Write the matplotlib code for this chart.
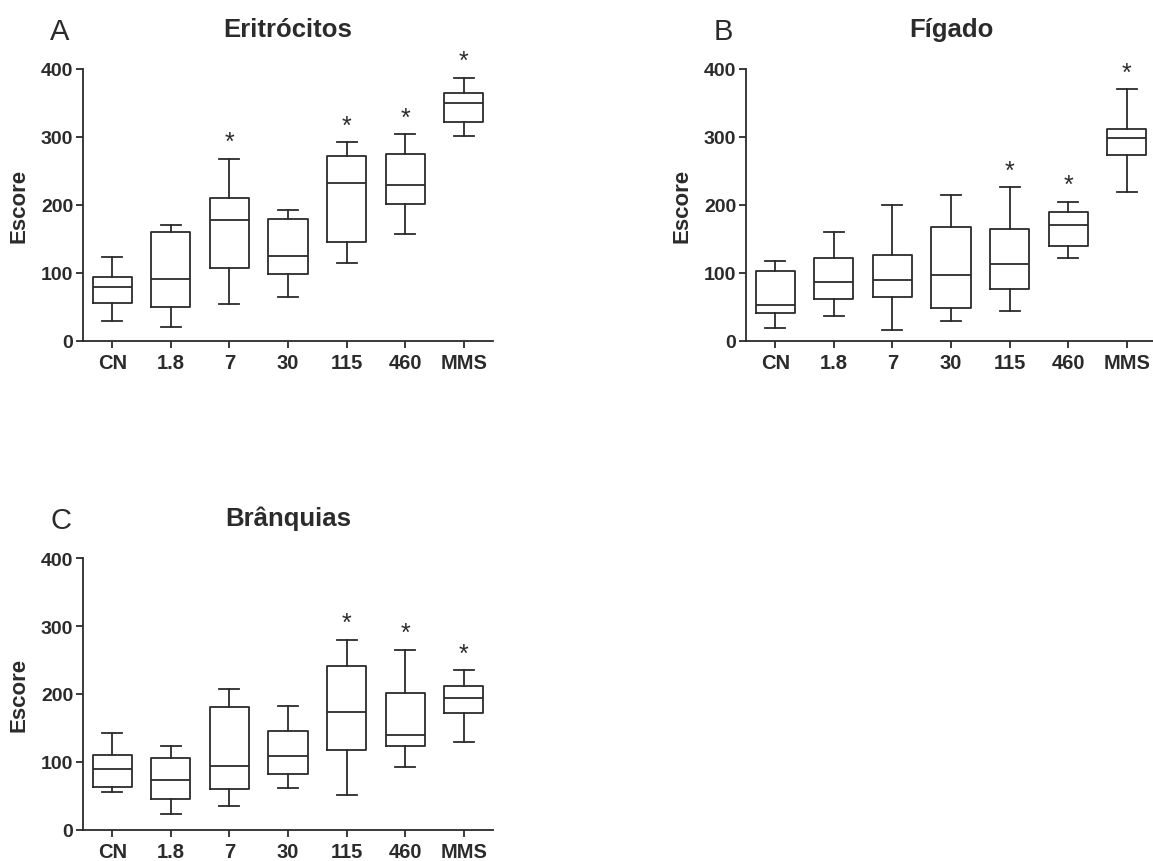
import matplotlib
matplotlib.use("Agg")
import matplotlib.pyplot as plt

plt.rcParams['font.family'] = ['Liberation Sans', 'DejaVu Sans']

groups = ['CN', '1.8', '7', '30', '115', '460', 'MMS']

# five-number summaries: (whislo, q1, med, q3, whishi)
eritro = [(30, 56, 79, 94, 123), (21, 50, 91, 160, 170), (54, 108, 178, 211, 268),
          (64, 98, 125, 180, 193), (114, 145, 232, 272, 292), (157, 201, 230, 275, 304),
          (302, 322, 350, 365, 387)]
eritro_sig = [0, 0, 1, 0, 1, 1, 1]

figado = [(19, 41, 53, 103, 117), (37, 62, 87, 122, 160), (16, 65, 90, 127, 200),
          (29, 48, 97, 168, 215), (44, 76, 113, 165, 226), (122, 140, 170, 189, 205),
          (219, 274, 299, 312, 370)]
figado_sig = [0, 0, 0, 0, 1, 1, 1]

branq = [(56, 63, 90, 110, 142), (24, 45, 74, 106, 123), (35, 60, 94, 181, 208),
         (62, 83, 109, 146, 183), (51, 118, 173, 241, 280), (93, 123, 139, 201, 265),
         (129, 172, 194, 212, 235)]
branq_sig = [0, 0, 0, 0, 1, 1, 1]

W, H = 1153, 862
fig = plt.figure(figsize=(W / 100, H / 100), dpi=100)

dark = '#2b2b2b'


def panel(left_px, top_px, data, sig, title, letter):
    ax = fig.add_axes([left_px / W, (H - top_px - 272) / H, 410 / W, 272 / H])
    stats = []
    for lo, q1, med, q3, hi in data:
        stats.append(dict(whislo=lo, q1=q1, med=med, q3=q3, whishi=hi, fliers=[]))
    lp = dict(color=dark, linewidth=1.3)
    ax.bxp(stats, positions=range(1, 8), widths=0.67, capwidths=0.34,
           boxprops=lp, whiskerprops=lp, capprops=lp, medianprops=lp,
           showfliers=False)
    for i, (s, d) in enumerate(zip(sig, data)):
        if s:
            ax.text(i + 1, d[4] + 14, '*', ha='center', va='baseline',
                    fontsize=18, color=dark, clip_on=False)
    ax.set_xlim(0.5, 7.5)
    ax.set_ylim(0, 400)
    ax.set_yticks([0, 100, 200, 300, 400])
    ax.set_xticks(range(1, 8))
    ax.set_xticklabels(groups, fontsize=14.5, fontweight='bold', color=dark)
    for t in ax.get_yticklabels():
        t.set_fontsize(14)
        t.set_fontweight('bold')
        t.set_color(dark)
    ax.spines['top'].set_visible(False)
    ax.spines['right'].set_visible(False)
    for sp in ('left', 'bottom'):
        ax.spines[sp].set_linewidth(1.3)
        ax.spines[sp].set_color(dark)
    ax.tick_params(axis='both', length=5, width=1.3, color=dark)
    ax.tick_params(axis='y', pad=2)
    ax.tick_params(axis='x', pad=3.5)
    ax.set_ylabel('Escore', fontsize=16, fontweight='bold', color=dark, labelpad=8)
    ax.text(0.5, 1.121, title, transform=ax.transAxes, ha='center', va='baseline',
            fontsize=18.5, fontweight='bold', color=dark)
    ax.text(-0.08, 1.11, letter, transform=ax.transAxes, ha='left', va='baseline',
            fontsize=21, color=dark)
    return ax


panel(83, 70, eritro, eritro_sig, 'Eritrócitos', 'A')
panel(746, 70, figado, figado_sig, 'Fígado', 'B')
panel(83, 559, branq, branq_sig, 'Brânquias', 'C')

fig.savefig('out.png', dpi=100)
